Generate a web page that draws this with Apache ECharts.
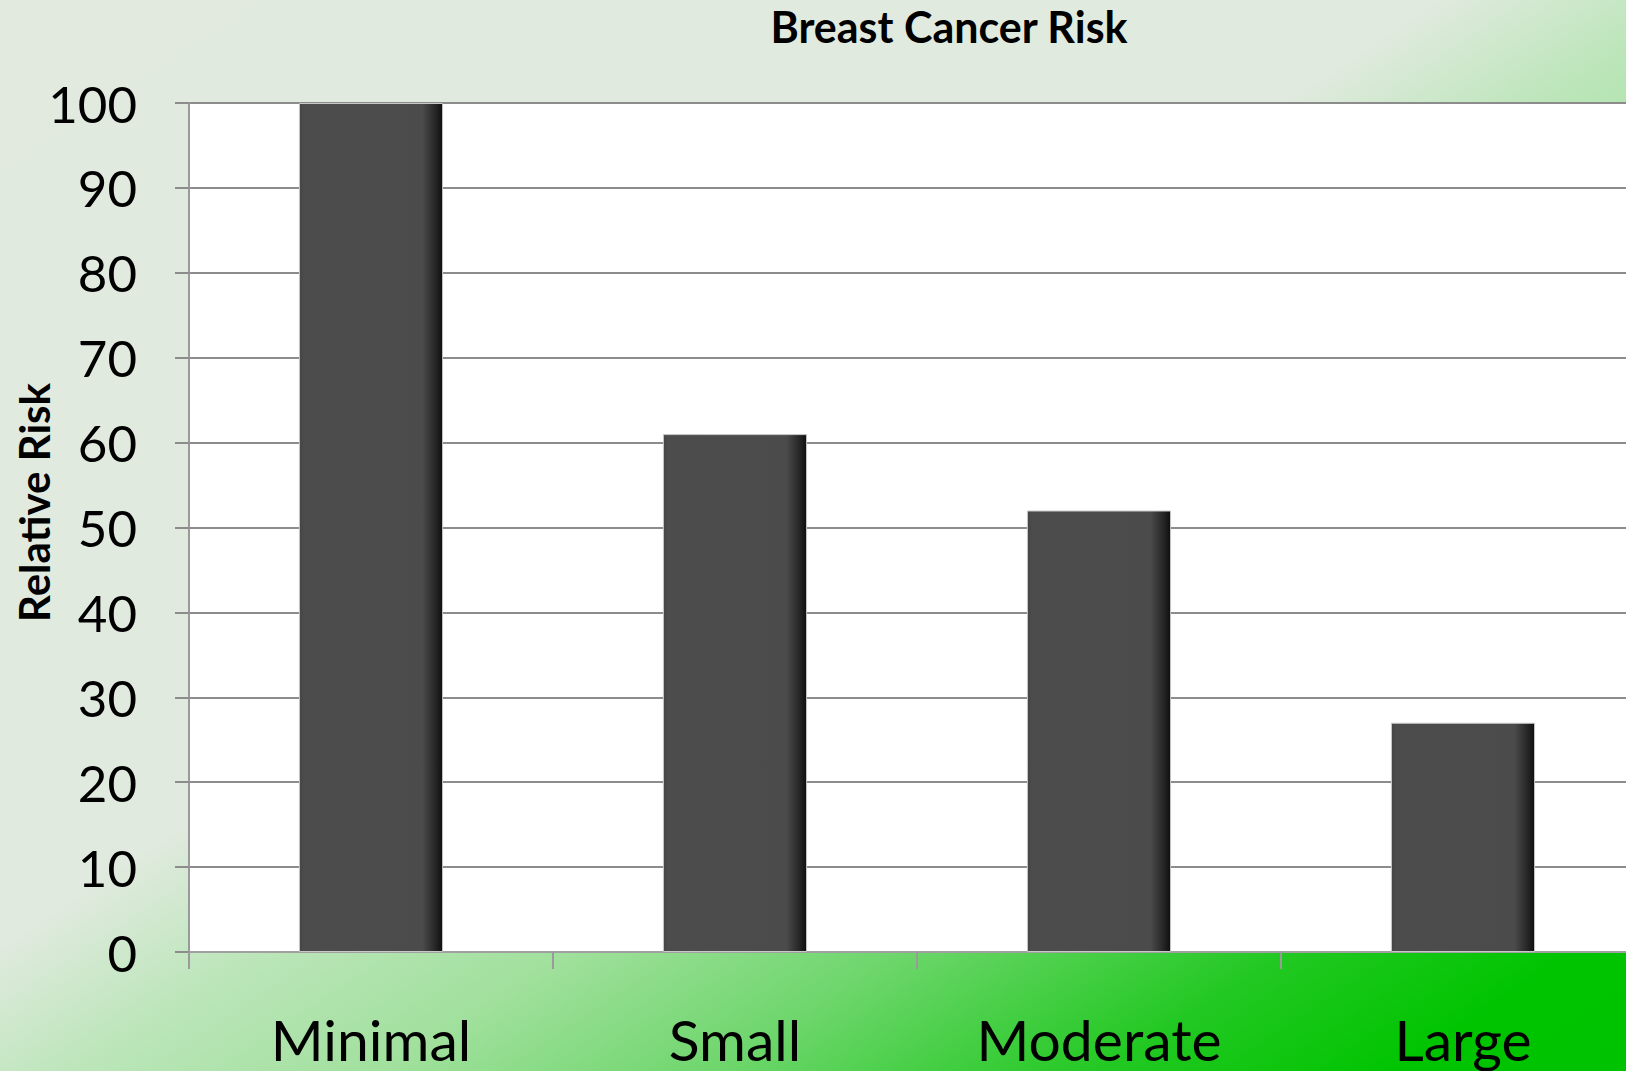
<!DOCTYPE html>
<html>
<head>
<meta charset="utf-8">
<script src="https://cdn.jsdelivr.net/npm/echarts@6/dist/echarts.min.js"></script>
<style>
html,body{margin:0;padding:0;}
#chart{width:1626px;height:1071px;}
</style>
</head>
<body>
<div id="chart"></div>
<script>
var categories = ['Minimal', 'Small', 'Moderate', 'Large'];
var riskValues = [100, 61, 52, 27];
var yMin = 0, yMax = 100, yStep = 10;

var W = 1626, H = 1071;
var k = 2 * W * H / (W * W + H * H);
var chart = echarts.init(document.getElementById('chart'), null, {renderer: 'svg'});
chart.setOption({
  animation: false,
  backgroundColor: {
    type: 'linear', global: true, x: 0, y: 0, x2: k * H, y2: k * W,
    colorStops: [
      {offset: 0, color: '#e2eae0'},
      {offset: 0.44, color: '#e1eadf'},
      {offset: 0.52, color: '#bde6bb'},
      {offset: 0.62, color: '#a0e09c'},
      {offset: 0.72, color: '#6ed66c'},
      {offset: 0.84, color: '#22c822'},
      {offset: 0.93, color: '#00c400'},
      {offset: 1, color: '#00c200'}
    ]
  },
  title: {
    text: 'Breast Cancer Risk',
    left: 944, top: 0, textAlign: 'center',
    textStyle: {fontFamily: 'Lato', fontWeight: 'bold', fontSize: 43, color: '#000'}
  },
  grid: {
    left: 189, top: 103, right: -19, bottom: 119,
    outerBoundsMode: 'none',
    show: true, backgroundColor: '#ffffff', borderWidth: 0, containLabel: false
  },
  xAxis: {
    type: 'category',
    data: categories,
    boundaryGap: true,
    axisLine: {show: true, lineStyle: {color: '#a0a0a0', width: 2}},
    axisTick: {show: true, alignWithLabel: false, length: 17, lineStyle: {color: '#9a9a9a', width: 2}},
    axisLabel: {margin: 58, fontFamily: 'Lato', fontSize: 57, color: '#000'},
    splitLine: {show: false}
  },
  yAxis: {
    type: 'value',
    min: yMin, max: yMax, interval: yStep,
    name: 'Relative Risk',
    nameLocation: 'middle',
    nameGap: 134,
    nameRotate: 90,
    nameMoveOverlap: false,
    nameTextStyle: {fontFamily: 'Lato', fontWeight: 'bold', fontSize: 42, color: '#000', padding: [0, 0, 0, 50]},
    axisLine: {show: true, lineStyle: {color: '#9a9a9a', width: 2}},
    axisTick: {show: true, length: 14, lineStyle: {color: '#8c8c8c', width: 2}},
    axisLabel: {margin: 52, fontFamily: 'Lato', fontSize: 51, color: '#000'},
    splitLine: {show: true, lineStyle: {color: '#8c8c8c', width: 2}}
  },
  series: [{
    type: 'bar',
    data: riskValues,
    barWidth: '39.6%',
    itemStyle: {
      color: {
        type: 'linear', x: 0, y: 0, x2: 1, y2: 0,
        colorStops: [
          {offset: 0, color: '#444444'},
          {offset: 0.03, color: '#4c4c4c'},
          {offset: 0.86, color: '#4b4b4b'},
          {offset: 0.95, color: '#262626'},
          {offset: 1, color: '#0e0e0e'}
        ]
      },
      borderColor: '#c8c8c8',
      borderWidth: 1
    }
  }]
});
</script>
</body>
</html>
